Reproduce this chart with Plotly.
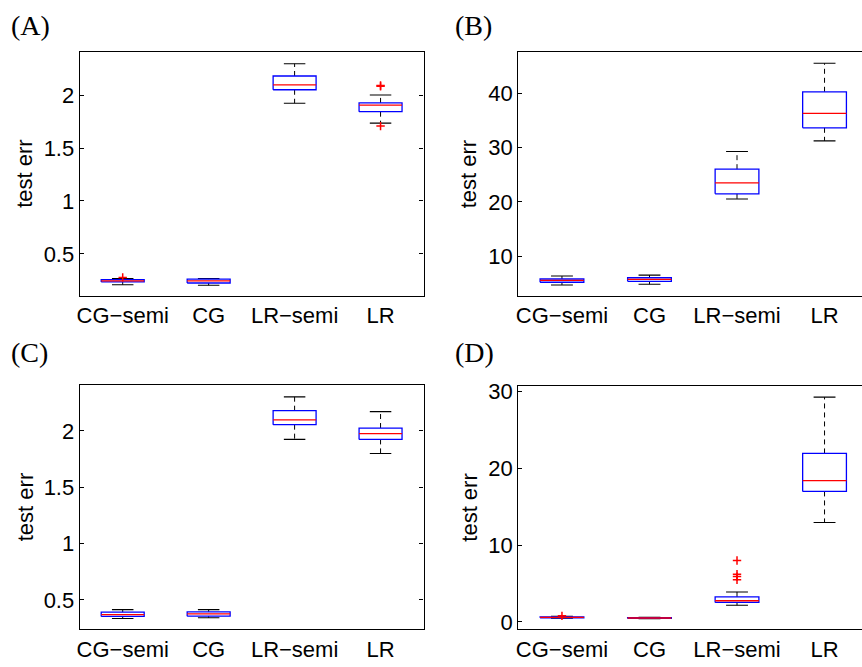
import plotly.graph_objects as go

W, H = 862, 667

categories = ["CG\u2212semi", "CG", "LR\u2212semi", "LR"]

# Panel A
a_lo  = [0.209, 0.204, 1.923, 1.735]
a_q1  = [0.235, 0.225, 2.050, 1.843]
a_med = [0.246, 0.246, 2.096, 1.905]
a_q3  = [0.256, 0.262, 2.180, 1.926]
a_hi  = [0.268, 0.268, 2.296, 2.000]
a_out = [[0.278], [], [], [2.082, 2.090, 1.707]]
a_ticks = [0.5, 1, 1.5, 2]
a_ticktext = ["0.5", "1", "1.5", "2"]

# Panel B
b_lo  = [4.76, 4.89, 20.54, 31.23]
b_q1  = [5.25, 5.43, 21.50, 33.63]
b_med = [5.60, 5.79, 23.50, 36.28]
b_q3  = [5.85, 6.08, 26.03, 40.25]
b_hi  = [6.39, 6.57, 29.28, 45.49]
b_out = [[], [], [], []]
b_ticks = [10, 20, 30, 40]
b_ticktext = ["10", "20", "30", "40"]

# Panel C
c_lo  = [0.334, 0.340, 1.925, 1.800]
c_q1  = [0.352, 0.355, 2.056, 1.925]
c_med = [0.369, 0.375, 2.099, 1.977]
c_q3  = [0.390, 0.393, 2.180, 2.026]
c_hi  = [0.413, 0.413, 2.303, 2.172]
c_out = [[], [], [], []]
c_ticks = [0.5, 1, 1.5, 2]
c_ticktext = ["0.5", "1", "1.5", "2"]

# Panel D
d_lo  = [0.50, 0.42, 2.17, 12.94]
d_q1  = [0.55, 0.47, 2.55, 16.98]
d_med = [0.60, 0.52, 2.76, 18.39]
d_q3  = [0.65, 0.57, 3.27, 21.92]
d_hi  = [0.75, 0.60, 3.91, 29.24]
d_out = [[0.80], [], [8.0, 6.2, 5.9, 5.5], []]
d_ticks = [0, 10, 20, 30]
d_ticktext = ["0", "10", "20", "30"]

panel_labels = ["(A)", "(B)", "(C)", "(D)"]

fig = go.Figure()

BOX_HW = 0.25
CAP_HW = 0.125


def add_panel(n, lo, q1, med, q3, hi, out):
    xa = "x" if n == 1 else f"x{n}"
    ya = "y" if n == 1 else f"y{n}"
    for i in range(len(categories)):
        c = i + 1
        # whiskers (dashed)
        fig.add_trace(go.Scatter(
            x=[c, c, None, c, c], y=[q3[i], hi[i], None, q1[i], lo[i]],
            mode="lines", line=dict(color="black", width=1, dash="5px,4px"),
            xaxis=xa, yaxis=ya, showlegend=False, hoverinfo="skip"))
        # caps
        fig.add_trace(go.Scatter(
            x=[c - CAP_HW, c + CAP_HW, None, c - CAP_HW, c + CAP_HW],
            y=[hi[i], hi[i], None, lo[i], lo[i]],
            mode="lines", line=dict(color="black", width=1.1),
            xaxis=xa, yaxis=ya, showlegend=False, hoverinfo="skip"))
        # box
        fig.add_trace(go.Scatter(
            x=[c - BOX_HW, c + BOX_HW, c + BOX_HW, c - BOX_HW, c - BOX_HW],
            y=[q1[i], q1[i], q3[i], q3[i], q1[i]],
            mode="lines", line=dict(color="#0000ff", width=1.3),
            xaxis=xa, yaxis=ya, showlegend=False, hoverinfo="skip"))
        # median
        fig.add_trace(go.Scatter(
            x=[c - BOX_HW, c + BOX_HW], y=[med[i], med[i]],
            mode="lines", line=dict(color="#ff0000", width=1.3),
            xaxis=xa, yaxis=ya, showlegend=False, hoverinfo="skip"))
        # outliers
        if out[i]:
            fig.add_trace(go.Scatter(
                x=[c] * len(out[i]), y=out[i], mode="markers",
                marker=dict(symbol="cross-thin", size=6,
                            line=dict(color="#ff0000", width=1.5)),
                xaxis=xa, yaxis=ya, showlegend=False, hoverinfo="skip"))


add_panel(1, a_lo, a_q1, a_med, a_q3, a_hi, a_out)
add_panel(2, b_lo, b_q1, b_med, b_q3, b_hi, b_out)
add_panel(3, c_lo, c_q1, c_med, c_q3, c_hi, c_out)
add_panel(4, d_lo, d_q1, d_med, d_q3, d_hi, d_out)

FONT = dict(family="Liberation Sans, Arial, sans-serif", size=22, color="black")


def px_x(p):
    return p / W


def px_y(p):
    return 1 - p / H


panels = [
    # (x0, x1, ytop, ybot, xrange, yrange, ticks, ticktext, right_side)
    (77, 422, 46, 294, [0.5, 4.5], [0.105, 2.405], a_ticks, a_ticktext, True),
    (517, 862, 46, 294, [0.5, 4.428], [2.78, 47.53], b_ticks, b_ticktext, False),
    (77, 422, 385.3, 633.7, [0.5, 4.5], [0.238, 2.405], c_ticks, c_ticktext, True),
    (517, 862, 385.7, 633.7, [0.5, 4.428], [-0.95, 30.72], d_ticks, d_ticktext, False),
]

layout = dict(
    width=W, height=H, margin=dict(l=0, r=0, t=0, b=0),
    paper_bgcolor="white", plot_bgcolor="white", showlegend=False,
)

for k, (x0, x1, yt, yb, xr, yr, tv, tt, right) in enumerate(panels):
    n = k + 1
    xkey = "xaxis" if n == 1 else f"xaxis{n}"
    ykey = "yaxis" if n == 1 else f"yaxis{n}"
    layout[xkey] = dict(
        domain=[px_x(x0), min(1.0, px_x(x1))], range=xr,
        anchor="y" if n == 1 else f"y{n}",
        tickmode="array", tickvals=[1, 2, 3, 4], ticktext=categories,
        ticks="", showline=True, mirror=True, linecolor="black", linewidth=1.2,
        showgrid=False, zeroline=False, tickfont=FONT, fixedrange=True,
    )
    layout[ykey] = dict(
        domain=[px_y(yb), px_y(yt)], range=yr,
        anchor="x" if n == 1 else f"x{n}",
        tickmode="array", tickvals=tv, ticktext=tt,
        ticks="inside", ticklen=4, tickcolor="black",
        showline=True, mirror=("ticks" if right else False),
        linecolor="black", linewidth=1.2,
        showgrid=False, zeroline=False, tickfont=FONT, fixedrange=True,
    )

annotations = []
label_pos = [(6, 19), (452, 19), (6, 352), (452, 352)]
for (lx, ly), lab in zip(label_pos, panel_labels):
    annotations.append(dict(
        text=lab, xref="paper", yref="paper", x=px_x(lx), y=px_y(ly),
        xanchor="left", yanchor="middle", showarrow=False,
        font=dict(family="Liberation Serif", size=28, color="black")))

title_pos = [(22, 170), (468, 170), (22, 509.5), (468, 509.5)]
for (tx, ty) in title_pos:
    annotations.append(dict(
        text="test err", xref="paper", yref="paper", x=px_x(tx), y=px_y(ty),
        xanchor="center", yanchor="middle", textangle=-90, showarrow=False,
        font=FONT))

layout["annotations"] = annotations
fig.update_layout(**layout)

fig.write_html("out.html")
